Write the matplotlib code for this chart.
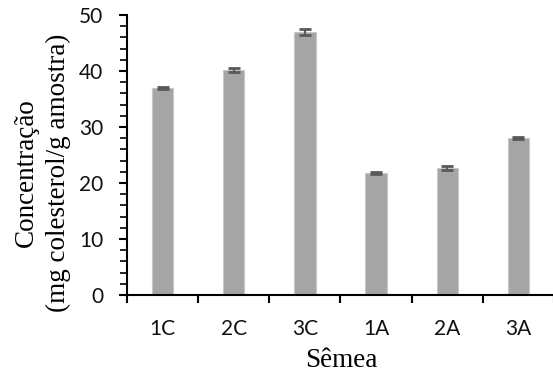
import matplotlib
matplotlib.use("Agg")
import matplotlib.pyplot as plt
import numpy as np
from matplotlib.ticker import MultipleLocator, FixedLocator

categories = ["1C", "2C", "3C", "1A", "2A", "3A"]
values = [37.0, 40.2, 47.0, 21.8, 22.7, 28.0]
errors = [0.2, 0.4, 0.5, 0.15, 0.4, 0.2]

fig = plt.figure(figsize=(5.53, 3.8), dpi=100)
ax = fig.add_axes([127/553, 1-295/380, 427/553, 280/380])

x = np.arange(len(categories))
ax.bar(x, values, width=0.3, color="#a5a5a5", edgecolor="#c8c8c8", linewidth=0.8, zorder=2)
ax.errorbar(x, values, yerr=errors, fmt="none", ecolor="#595959", elinewidth=1.5,
            capsize=4.3, capthick=2, zorder=3)

ax.set_xlim(-0.5, len(categories) - 0.5)
ax.set_ylim(0, 50)
ax.yaxis.set_major_locator(MultipleLocator(10))
ax.yaxis.set_minor_locator(MultipleLocator(2))
ax.set_xticks(x)
ax.set_xticklabels(categories)
ax.xaxis.set_minor_locator(FixedLocator(np.arange(-0.5, len(categories), 1.0)))
ax.tick_params(axis="x", which="major", length=0, pad=17)
ax.tick_params(axis="x", which="minor", length=6, width=1.5, direction="out")
ax.tick_params(axis="y", which="major", length=6, width=1.5, direction="out", pad=11)
ax.tick_params(axis="y", which="minor", length=5, width=1.2, direction="out")

for lab in ax.get_xticklabels() + ax.get_yticklabels():
    lab.set_fontfamily("Lato")
    lab.set_fontsize(15)
    lab.set_color("#111111")

for s in ["top", "right"]:
    ax.spines[s].set_visible(False)
for s in ["left", "bottom"]:
    ax.spines[s].set_linewidth(1.5)
    ax.spines[s].set_color("black")

ax.set_ylabel("Concentração\n(mg colesterol/g amostra)", fontfamily="Liberation Serif",
              fontsize=19.5, linespacing=1.35, va="center", ha="center")
ax.yaxis.set_label_coords(-0.198, 0.436)
ax.set_xlabel("Sêmea", fontfamily="Liberation Serif", fontsize=19.5, va="center", ha="center")
ax.xaxis.set_label_coords(0.503, -0.234)

fig.savefig("out.png", dpi=100)
